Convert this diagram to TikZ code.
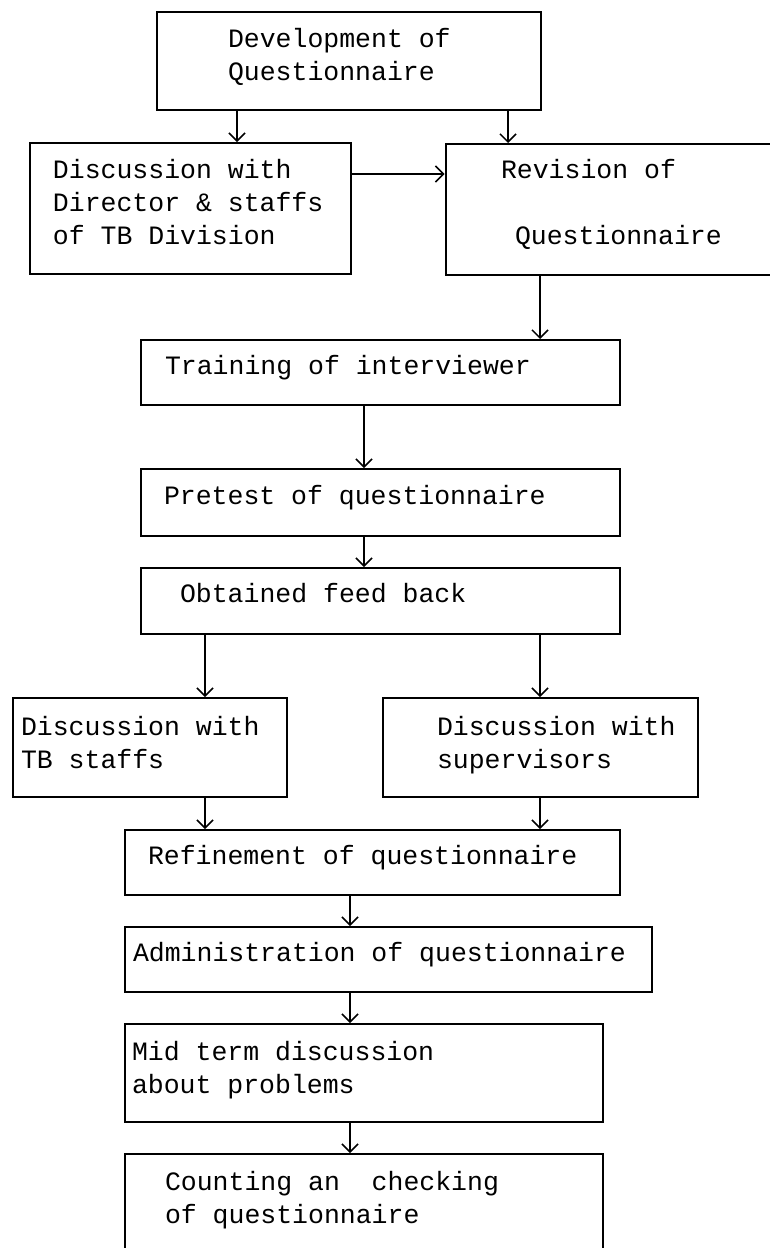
\documentclass[tikz,border=0pt]{standalone}
\usepackage{fontspec}
\setmonofont{Liberation Mono}
\usepackage{tikz}
\usetikzlibrary{arrows.meta,positioning}

\begin{document}
\begin{tikzpicture}[x=0.5pt,y=-0.5pt,node distance=15pt,>={Straight Barb[length=4pt,width=8pt]},
	box/.style={draw,line width=1pt,align=left,inner ysep=0pt,anchor=north west,text depth=8pt,
		font=\ttfamily\fontsize{13.25}{16.5}\selectfont,
		execute at begin node={\spaceskip=7.95pt\relax}},
	flow/.style={->,line width=0.75pt}]
	
	\useasboundingbox (0,0) rectangle (770,1248);
	
	\node[box,minimum height=49pt,text width=121pt,inner xsep=35.5pt,text depth=23.5pt] (dev) at (156,11) {Development of\\Questionnaire};
	\node[box,minimum height=65.5pt,text width=137.25pt,inner xsep=11.75pt,text depth=40pt] (dir) at (28.5,142) {Discussion with\\Director~\&~staffs\\of TB Division};
	\node[box,minimum height=65.5pt,text width=124.5pt,inner xsep=27.75pt,text depth=41pt] (rev) at (444.5,143) {Revision of\\[16.5pt]\hspace*{7pt}Questionnaire};
	\node[box,minimum height=32.5pt,text width=215.5pt,inner xsep=12pt] (train) at (140,339) {Training of interviewer};
	\node[box,minimum height=33.5pt,text width=216.5pt,inner xsep=11.5pt] (pre) [below=31pt of train.south west,anchor=north west] {Pretest of questionnaire};
	\node[box,minimum height=33pt,text width=200.5pt,inner xsep=19.5pt] (feed) [below=of pre.south west,anchor=north west] {Obtained feed back};
	\node[box,minimum height=49.5pt,text width=129pt,inner xsep=4pt,text depth=22pt] (tbs) at (12,697) {Discussion with\\TB staffs};
	\node[box,minimum height=49.5pt,text width=103.5pt,inner xsep=27pt,text depth=22pt] (sup) at (382,697) {Discussion~with\\supervisors};
	\node[box,minimum height=32.5pt,text width=224.5pt,inner xsep=11.5pt] (ref) at (124,829) {Refinement of questionnaire};
	\node[box,minimum height=32.5pt,text width=255.5pt,inner xsep=4pt] (adm) [below=of ref.south west,anchor=north west] {Administration of questionnaire};
	\node[box,minimum height=49pt,text width=232pt,inner xsep=3.5pt,text depth=22.5pt] (mid) [below=of adm.south west,anchor=north west] {Mid term discussion\\about problems};
	\node[box,minimum height=50pt,text width=199pt,inner xsep=20pt,text depth=23.5pt] (cnt) [below=of mid.south west,anchor=north west] {Counting an\ \ checking\\of questionnaire};
	
	% columns of the arrows
	\coordinate (xa) at (237,0);
	\coordinate (xb) at (508,0);
	\coordinate (xc) at (540,0);
	\coordinate (xd) at (364,0);
	\coordinate (xe) at (205,0);
	\coordinate (xf) at (350,0);
	\coordinate (ya) at (0,174);
	
	\draw[flow] (dev.south -| xa) -- (dir.north -| xa);
	\draw[flow] (dev.south -| xb) -- (rev.north -| xb);
	\draw[flow] (dir.east |- ya) -- (rev.west |- ya);
	\draw[flow] (rev.south -| xc) -- (train.north -| xc);
	\draw[flow] (train.south -| xd) -- (pre.north -| xd);
	\draw[flow] (pre.south -| xd) -- (feed.north -| xd);
	\draw[flow] (feed.south -| xe) -- (tbs.north -| xe);
	\draw[flow] (feed.south -| xc) -- (sup.north -| xc);
	\draw[flow] (tbs.south -| xe) -- (ref.north -| xe);
	\draw[flow] (sup.south -| xc) -- (ref.north -| xc);
	\draw[flow] (ref.south -| xf) -- (adm.north -| xf);
	\draw[flow] (adm.south -| xf) -- (mid.north -| xf);
	\draw[flow] (mid.south -| xf) -- (cnt.north -| xf);
\end{tikzpicture}
\end{document}
